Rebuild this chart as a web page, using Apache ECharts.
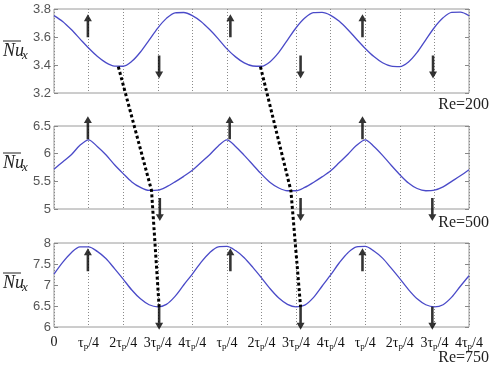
<!DOCTYPE html>
<html>
<head>
<meta charset="utf-8">
<script src="https://cdn.jsdelivr.net/npm/echarts@6/dist/echarts.min.js"></script>
<style>
  html, body { margin: 0; padding: 0; background: #fff; }
  #chart { width: 492px; height: 366px; }
</style>
</head>
<body>
<div id="chart"></div>
<script>
// phase position in quarter periods, sampled every 0.25
const phaseStep = 0.25;

const nu200 = [
  3.753, 3.711, 3.653, 3.587, 3.521, 3.462, 3.417, 3.392, 3.391, 3.426, 3.493, 3.578, 3.664, 3.733, 3.773, 3.775,
  3.753, 3.711, 3.653, 3.587, 3.515, 3.458, 3.415, 3.393, 3.391, 3.424, 3.490, 3.578, 3.666, 3.735, 3.774, 3.776,
  3.755, 3.712, 3.652, 3.584, 3.518, 3.460, 3.416, 3.392, 3.389, 3.422, 3.490, 3.580, 3.668, 3.737, 3.776, 3.777,
  3.752
];
const nu500 = [
  5.72, 5.85, 5.98, 6.15, 6.25, 6.13, 5.98, 5.80, 5.64, 5.49, 5.39, 5.335, 5.34, 5.40, 5.49, 5.59,
  5.70, 5.84, 5.98, 6.14, 6.25, 6.13, 5.97, 5.80, 5.63, 5.48, 5.38, 5.33, 5.33, 5.39, 5.48, 5.58,
  5.69, 5.84, 5.99, 6.15, 6.25, 6.13, 5.97, 5.79, 5.62, 5.47, 5.37, 5.33, 5.34, 5.40, 5.50, 5.60,
  5.71
];
const nu750 = [
  7.26, 7.54, 7.77, 7.91, 7.91, 7.80, 7.63, 7.39, 7.14, 6.88, 6.67, 6.53, 6.48, 6.54, 6.73, 7.00,
  7.26, 7.54, 7.77, 7.91, 7.92, 7.82, 7.65, 7.42, 7.17, 6.91, 6.69, 6.54, 6.48, 6.52, 6.70, 6.97,
  7.24, 7.53, 7.77, 7.91, 7.92, 7.81, 7.64, 7.40, 7.15, 6.89, 6.67, 6.53, 6.48, 6.53, 6.71, 6.97,
  7.22
];

const xTickLabels = [
  '0', 'τ{p|p}/4', '2τ{p|p}/4', '3τ{p|p}/4', '4τ{p|p}/4',
  'τ{p|p}/4', '2τ{p|p}/4', '3τ{p|p}/4', '4τ{p|p}/4',
  'τ{p|p}/4', '2τ{p|p}/4', '3τ{p|p}/4', '4τ{p|p}/4'
];
const reLabels = ['Re=200', 'Re=500', 'Re=750'];

const yMin = [3.2, 5, 6];
const yMax = [3.8, 6.5, 8];
const yStep = [0.2, 0.5, 0.5];

// arrow markers (phase, Nu) per panel
const up200 = [[0.98, 3.68], [5.1, 3.68], [8.92, 3.68]];
const down200 = [[3.04, 3.386], [7.13, 3.386], [10.96, 3.386]];
const up500 = [[0.98, 6.47], [5.08, 6.47], [8.92, 6.47]];
const down500 = [[3.06, 4.99], [7.13, 4.99], [10.94, 4.99]];
const up750 = [[0.98, 7.6], [5.1, 7.6], [8.92, 7.6]];
const down750 = [[3.04, 6.21], [7.13, 6.21], [10.94, 6.21]];

// minima joined by the dotted lines
const minima200 = [[1.86, 3.388], [5.97, 3.388]];
const minima500 = [[2.82, 5.335], [6.85, 5.33]];
const minima750 = [[3.04, 6.48], [7.13, 6.48]];

const curves = [nu200, nu500, nu750];
const ups = [up200, up500, up750];
const downs = [down200, down500, down750];

const gridTops = [9, 126, 243];
const gridHeights = [84, 83, 84];
const labelCenters = [50, 162, 282];
const reCenters = [106, 224, 359];

const arrowPath = 'path://M5,0 L10,9 L6.6,9 L6.6,30 L3.4,30 L3.4,9 L0,9 Z';
const lineColor = '#4a4ac8';
const serif = 'Liberation Serif';

const chart = echarts.init(document.getElementById('chart'));

const grid = [], xAxis = [], yAxis = [], series = [];
for (let i = 0; i < 3; i++) {
  grid.push({
    left: 54, top: gridTops[i], width: 415, height: gridHeights[i],
    show: true, borderColor: '#9a9a9a', borderWidth: 1, backgroundColor: 'transparent'
  });
  xAxis.push({
    gridIndex: i, type: 'value', min: 0, max: 12, interval: 1,
    axisLine: { show: false },
    axisTick: { show: false },
    splitLine: { show: true, lineStyle: { color: '#8a8a8a', width: 1, type: [1, 2] } },
    axisLabel: i === 2 ? {
      show: true, margin: 8, color: '#111', fontFamily: serif, fontSize: 14,
      formatter: v => xTickLabels[Math.round(v)] || '',
      rich: { p: { fontFamily: serif, fontSize: 9, color: '#111', padding: [7, 0, 0, 0] } }
    } : { show: false }
  });
  yAxis.push({
    gridIndex: i, type: 'value', min: yMin[i], max: yMax[i], interval: yStep[i],
    axisLine: { show: false },
    axisTick: { show: true, inside: true, length: 4, lineStyle: { color: '#888' } },
    splitLine: { show: false },
    axisLabel: { color: '#555', fontFamily: 'Liberation Sans', fontSize: 13, margin: 3 }
  });
  yAxis.push({
    gridIndex: i, type: 'value', position: 'right', min: yMin[i], max: yMax[i], interval: yStep[i],
    axisLine: { show: false },
    axisTick: { show: true, inside: true, length: 4, lineStyle: { color: '#888' } },
    splitLine: { show: false },
    axisLabel: { show: false }
  });
  series.push({
    type: 'line', xAxisIndex: i, yAxisIndex: i * 2,
    data: curves[i].map((v, k) => [k * phaseStep, v]),
    showSymbol: false, smooth: 0.3,
    lineStyle: { color: lineColor, width: 1.3 }
  });
  series.push({
    type: 'scatter', xAxisIndex: i, yAxisIndex: i * 2, clip: false, z: 5,
    data: ups[i], symbol: arrowPath, symbolSize: [8, 23],
    itemStyle: { color: '#000' }
  });
  series.push({
    type: 'scatter', xAxisIndex: i, yAxisIndex: i * 2, clip: false, z: 5,
    data: downs[i], symbol: arrowPath, symbolSize: [8, 23], symbolRotate: 180,
    itemStyle: { color: '#000' }
  });
}

chart.setOption({
  animation: false,
  backgroundColor: '#fff',
  grid, xAxis, yAxis, series
});

const graphic = [];
for (let i = 0; i < 3; i++) {
  const c = labelCenters[i];
  graphic.push({
    type: 'line', shape: { x1: 3, y1: c - 9, x2: 21, y2: c - 9 },
    style: { stroke: '#222', lineWidth: 1 }
  });
  graphic.push({
    type: 'text', left: 3, top: c - 8,
    style: { text: 'Nu', font: 'italic 18px "Liberation Serif"', fill: '#222' }
  });
  graphic.push({
    type: 'text', left: 22, top: c - 1,
    style: { text: 'x', font: 'italic 13px "Liberation Serif"', fill: '#222' }
  });
  graphic.push({
    type: 'text', right: 3, top: reCenters[i] - 9,
    style: { text: reLabels[i], font: '16px "Liberation Serif"', fill: '#222' }
  });
}

// dotted lines through the minima of the three panels
const minima = [minima200, minima500, minima750];
for (let j = 0; j < 2; j++) {
  const pts = minima.map((m, i) => chart.convertToPixel({ gridIndex: i }, m[j]));
  graphic.push({
    type: 'polyline', z: 100,
    shape: { points: pts },
    style: { stroke: '#000', lineWidth: 3, lineDash: [3, 2.5], fill: null }
  });
}

chart.setOption({ graphic });
</script>
</body>
</html>
